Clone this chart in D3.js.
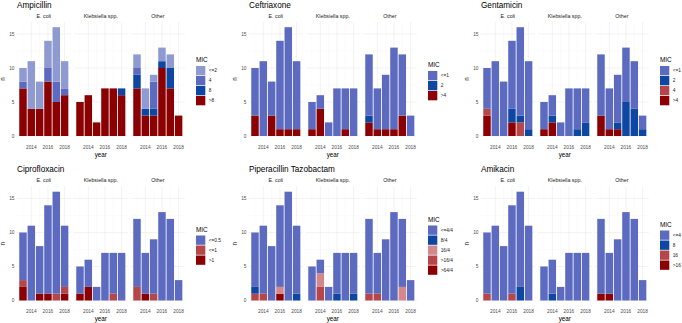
<!DOCTYPE html>
<html>
<head>
<meta charset="utf-8">
<script src="https://cdn.jsdelivr.net/npm/d3@7"></script>
<style>
  body { margin: 0; background: #fff; }
  svg { display: block; font-family: "Liberation Sans", Arial, sans-serif; }
</style>
</head>
<body>
<svg id="chart" width="682" height="323"></svg>
<script>
const years = [2013, 2014, 2015, 2016, 2017, 2018];
const organisms = ["E. coli", "Klebsiella spp.", "Other"];
const xTicks = [2014, 2016, 2018];
const xMinor = [2013, 2015, 2017];
const yTicks = [0, 5, 10, 15];
const yMinor = [2.5, 7.5, 12.5];

// every row is one MIC level (legend order, top of stack first)
// values: E. coli 2013-2018 | Klebsiella spp. 2013-2018 | Other 2013-2018
const ampicillinLevels = ["<=2", "4", "8", ">8"];
const ampicillinColors = ["#8e9ad0", "#5c6bc0", "#0d47a1", "#8b0000"];
const ampicillinCounts = [
  [2, 7, 4, 4, 8, 4,  0, 0, 0, 0, 0, 0,  2, 3, 1, 2, 2, 0],
  [1, 0, 0, 2, 3, 1,  0, 0, 0, 0, 0, 0,  1, 0, 4, 0, 0, 0],
  [0, 0, 0, 0, 0, 0,  0, 0, 0, 0, 0, 1,  2, 1, 1, 1, 3, 0],
  [7, 4, 4, 8, 5, 6,  5, 6, 2, 7, 7, 6,  7, 3, 3, 10, 7, 3]
];

const ceftriaxoneLevels = ["<=1", "2", ">4"];
const ceftriaxoneColors = ["#5c6bc0", "#0d47a1", "#8b0000"];
const ceftriaxoneCounts = [
  [7, 11, 5, 13, 15, 10,  4, 2, 2, 7, 6, 7,  9, 6, 8, 12, 9, 3],
  [0, 0, 0, 0, 0, 0,      0, 0, 0, 0, 0, 0,  1, 0, 0, 0, 0, 0],
  [3, 0, 3, 1, 1, 1,      1, 4, 0, 0, 1, 0,  2, 1, 1, 1, 3, 0]
];

const gentamicinLevels = ["<=1", "2", "4", ">4"];
const gentamicinColors = ["#5c6bc0", "#0d47a1", "#b5474b", "#8b0000"];
const gentamicinCounts = [
  [6, 11, 8, 10, 13, 10,  4, 3, 2, 7, 6, 5,  9, 6, 7, 8, 7, 2],
  [0, 0, 0, 2, 1, 1,      0, 1, 0, 0, 1, 2,  0, 0, 1, 5, 4, 1],
  [1, 0, 0, 0, 2, 0,      0, 0, 0, 0, 0, 0,  0, 0, 0, 0, 0, 0],
  [3, 0, 0, 2, 0, 0,      1, 2, 0, 0, 0, 0,  3, 1, 1, 0, 0, 0]
];

const ciprofloxacinLevels = ["<=0.5", "<=1", ">1"];
const ciprofloxacinColors = ["#5c6bc0", "#b5474b", "#8b0000"];
const ciprofloxacinCounts = [
  [7, 11, 7, 13, 15, 9,  4, 4, 2, 7, 6, 7,  10, 6, 8, 13, 12, 3],
  [1, 0, 0, 0, 1, 1,     0, 0, 0, 0, 1, 0,  2, 0, 1, 0, 0, 0],
  [2, 0, 1, 1, 0, 1,     1, 2, 0, 0, 0, 0,  0, 1, 0, 0, 0, 0]
];

const piptazLevels = ["<=4/4", "8/4", "16/4", ">16/4", ">64/4"];
const piptazColors = ["#5c6bc0", "#0d47a1", "#d4888c", "#b5474b", "#8b0000"];
const piptazCounts = [
  [8, 10, 8, 12, 16, 10,  5, 2, 2, 6, 7, 6,  11, 6, 9, 13, 10, 3],
  [1, 0, 0, 0, 0, 1,      0, 0, 0, 1, 0, 1,  0, 0, 0, 0, 0, 0],
  [0, 0, 0, 1, 0, 0,      0, 2, 0, 0, 0, 0,  0, 0, 0, 0, 2, 0],
  [1, 1, 0, 0, 0, 0,      0, 2, 0, 0, 0, 0,  1, 1, 0, 0, 0, 0],
  [0, 0, 0, 1, 0, 0,      0, 0, 0, 0, 0, 0,  0, 0, 0, 0, 0, 0]
];

const amikacinLevels = ["<=4", "8", "16", ">16"];
const amikacinColors = ["#5c6bc0", "#0d47a1", "#b5474b", "#8b0000"];
const amikacinCounts = [
  [9, 11, 8, 13, 14, 11,  5, 5, 2, 7, 7, 7,  11, 6, 9, 13, 12, 3],
  [0, 0, 0, 0, 2, 0,      0, 1, 0, 0, 0, 0,  0, 0, 0, 0, 0, 0],
  [1, 0, 0, 1, 0, 0,      0, 0, 0, 0, 0, 0,  0, 0, 0, 0, 0, 0],
  [0, 0, 0, 0, 0, 0,      0, 0, 0, 0, 0, 0,  1, 1, 0, 0, 0, 0]
];

const panels = [
  { title: "Ampicillin", levels: ampicillinLevels, colors: ampicillinColors, counts: ampicillinCounts },
  { title: "Ceftriaxone", levels: ceftriaxoneLevels, colors: ceftriaxoneColors, counts: ceftriaxoneCounts },
  { title: "Gentamicin", levels: gentamicinLevels, colors: gentamicinColors, counts: gentamicinCounts },
  { title: "Ciprofloxacin", levels: ciprofloxacinLevels, colors: ciprofloxacinColors, counts: ciprofloxacinCounts },
  { title: "Piperacillin Tazobactam", levels: piptazLevels, colors: piptazColors, counts: piptazCounts },
  { title: "Amikacin", levels: amikacinLevels, colors: amikacinColors, counts: amikacinCounts }
];

// layout
const colX = [0, 232, 464];
const rowY = [0, 164.5];
const facetW = 54, facetStep = 57, facetLeft = 16.8;
const plotTop = 21.76, plotBottom = 136;

const svg = d3.select("#chart");

const x = d3.scaleLinear().domain([2012.255, 2018.745]).range([0, facetW]);
const y = d3.scaleLinear().domain([0, 16.8]).range([plotBottom, plotTop]);
const facetX = d3.scaleOrdinal().domain(organisms)
  .range(organisms.map((o, i) => facetLeft + i * facetStep));
const barW = x(2013.45) - x(2012.55);

panels.forEach((p, pi) => {
  const g = svg.append("g")
    .attr("transform", `translate(${colX[pi % 3]},${rowY[Math.floor(pi / 3)]})`);

  g.append("text")
    .attr("x", 17).attr("y", 7.5)
    .attr("font-size", 8.2).attr("fill", "#000")
    .text(p.title);

  // y axis
  g.selectAll(".ytick").data(yTicks).join("text")
    .attr("x", 14.5).attr("y", d => y(d)).attr("dy", "0.35em")
    .attr("text-anchor", "end").attr("font-size", 4.8).attr("fill", "#4d4d4d")
    .text(d => d);

  g.append("text")
    .attr("transform", `translate(4.5,${(plotTop + plotBottom) / 2}) rotate(-90)`)
    .attr("text-anchor", "middle").attr("font-size", 6.3).attr("fill", "#000")
    .text("n");

  g.append("text")
    .attr("x", facetLeft + (2 * facetStep + facetW) / 2).attr("y", 156.5)
    .attr("text-anchor", "middle").attr("font-size", 6.3).attr("fill", "#000")
    .text("year");

  // stack rows: one per organism-year
  const keys = p.levels.slice().reverse();
  const rows = [];
  organisms.forEach((org, oi) => {
    years.forEach((yr, yi) => {
      const row = { org, year: yr };
      p.levels.forEach((lv, li) => { row[lv] = p.counts[li][oi * 6 + yi]; });
      rows.push(row);
    });
  });
  const series = d3.stack().keys(keys)(rows);
  const color = d3.scaleOrdinal().domain(p.levels).range(p.colors);

  organisms.forEach(org => {
    const fg = g.append("g").attr("transform", `translate(${facetX(org)},0)`);

    fg.selectAll(".vminor").data(xMinor).join("line")
      .attr("x1", d => x(d)).attr("x2", d => x(d))
      .attr("y1", plotTop).attr("y2", plotBottom)
      .attr("stroke", "#f2f2f2").attr("stroke-width", 0.35);
    fg.selectAll(".hminor").data(yMinor).join("line")
      .attr("x1", 0).attr("x2", facetW)
      .attr("y1", d => y(d)).attr("y2", d => y(d))
      .attr("stroke", "#f2f2f2").attr("stroke-width", 0.35);
    fg.selectAll(".vmajor").data(xTicks).join("line")
      .attr("x1", d => x(d)).attr("x2", d => x(d))
      .attr("y1", plotTop).attr("y2", plotBottom)
      .attr("stroke", "#e6e6e6").attr("stroke-width", 0.5);
    fg.selectAll(".hmajor").data(yTicks).join("line")
      .attr("x1", 0).attr("x2", facetW)
      .attr("y1", d => y(d)).attr("y2", d => y(d))
      .attr("stroke", "#e6e6e6").attr("stroke-width", 0.5);

    fg.append("text")
      .attr("x", facetW / 2).attr("y", 17.5)
      .attr("text-anchor", "middle").attr("font-size", 5.3).attr("fill", "#1a1a1a")
      .text(org);

    fg.selectAll(".xtick").data(xTicks).join("text")
      .attr("x", d => x(d)).attr("y", 148.5)
      .attr("text-anchor", "middle").attr("font-size", 4.8).attr("fill", "#4d4d4d")
      .text(d => d);

    series.forEach(s => {
      fg.selectAll(null).data(s.filter(d => d.data.org === org && d[1] > d[0])).join("rect")
        .attr("x", d => x(d.data.year) - barW / 2)
        .attr("width", barW)
        .attr("y", d => y(d[1]))
        .attr("height", d => y(d[0]) - y(d[1]))
        .attr("fill", color(s.key));
    });
  });

  // legend
  const lx = 196, pitch = 10, key = 9.3;
  const start = 86 - p.levels.length * pitch / 2;
  g.append("text")
    .attr("x", lx).attr("y", start - 3.6)
    .attr("font-size", 6.4).attr("fill", "#000")
    .text("MIC");
  const lg = g.selectAll(".lg").data(p.levels).join("g")
    .attr("transform", (d, i) => `translate(${lx},${start + i * pitch})`);
  lg.append("rect")
    .attr("width", key).attr("height", key)
    .attr("fill", d => color(d));
  lg.append("text")
    .attr("x", key + 3.4).attr("y", key / 2).attr("dy", "0.35em")
    .attr("font-size", 4.8).attr("fill", "#1a1a1a")
    .text(d => d);
});
</script>
</body>
</html>
